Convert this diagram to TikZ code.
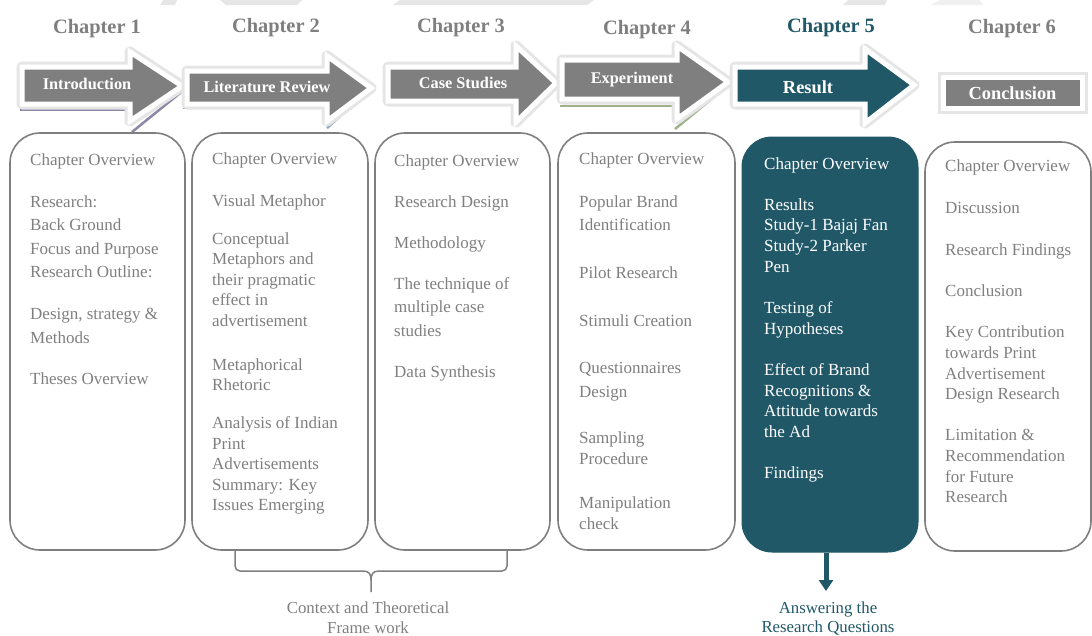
\documentclass[tikz,border=0pt]{standalone}
\usepackage{fontspec}
\setmainfont{Liberation Serif}
\usetikzlibrary{arrows.meta}
\definecolor{tealdk}{HTML}{215868}
\definecolor{grtxt}{HTML}{7F7F7F}
\definecolor{arrowgr}{HTML}{7F7F7F}
\definecolor{accpurple}{HTML}{8E86A6}
\definecolor{accblue}{HTML}{8DA3BD}
\definecolor{accgreen}{HTML}{9FB08A}
\definecolor{band}{HTML}{E6E6E6}
\begin{document}
\begin{tikzpicture}[x=1pt,y=-1pt,
  chap/.style={font=\fontsize{20.4}{24}\selectfont\bfseries, text=grtxt, anchor=base, inner sep=0pt},
  alab/.style={font=\fontsize{16.3}{20}\selectfont\bfseries, text=white, anchor=base, inner sep=0pt},
  blab/.style={font=\fontsize{18.4}{22}\selectfont\bfseries, text=white, anchor=base, inner sep=0pt},
  arrowbody/.style={fill=#1, draw=white, line width=5pt, line join=miter,
    preaction={draw=black!10, line width=11pt, line join=round}},
  accent/.style={draw=#1, line width=2.5pt},
  cbox/.style={draw=grtxt, line width=1.6pt, rounded corners=30pt, inner sep=0pt},
  tbox/.style={fill=tealdk, draw=tealdk, line width=1pt, rounded corners=30pt, inner sep=0pt},
  ltxt/.style={font=\fontsize{17}{21}\selectfont, text=grtxt, anchor=base west, inner sep=0pt},
  wtxt/.style={font=\fontsize{17}{21}\selectfont, text=white, anchor=base west, inner sep=0pt},
  note/.style={font=\fontsize{16.8}{21}\selectfont, anchor=base, inner sep=0pt},
  brace/.style={draw=grtxt, line width=1.5pt, line join=round}
]
\useasboundingbox (0,0) rectangle (1092,635);

% faint strips along the top edge
\fill[band] (220,0) -- (302,0) -- (297,5) -- (226,5) -- cycle;
\fill[band] (163,0) -- (177,0) -- (175,5) -- (160,5) -- cycle;
\fill[band] (400,0) -- (594,0) -- (587,5) -- (393,5) -- cycle;
\fill[band] (848,0) -- (887,0) -- (885,5) -- (843,5) -- cycle;
\fill[band!60] (940,0) -- (980,0) -- (983,5) -- (930,5) -- cycle;

% chapter headings
\node[chap] (h1) at (97,33) {Chapter 1};
\node[chap] (h2) at (276,32) {Chapter 2};
\node[chap] (h3) at (461,32) {Chapter 3};
\node[chap] (h4) at (647,34) {Chapter 4};
\node[chap, text=tealdk] (h5) at (831,32) {Chapter 5};
\node[chap] (h6) at (1012,33) {Chapter 6};

% accent edges under the first arrows
\draw[accent=accpurple] (20,110) -- (128,110);
\draw[accent=accpurple] (132,132) -- (185,89);
\draw[accent=accblue] (183,108) -- (323,108);
\draw[accent=accblue] (327,128) -- (373,87);
\draw[accent=accgreen] (560,106) -- (673,106);
\draw[accent=accgreen] (675,129) -- (731,83);

% block arrows
\path[arrowbody=arrowgr] (22,67) -- (130,67) -- (130,52) -- (182,86) -- (130,121) -- (130,104) -- (22,104) -- cycle;
\path[arrowbody=arrowgr] (187,71) -- (327,71) -- (327,56) -- (371,88) -- (327,121) -- (327,104) -- (187,104) -- cycle;
\path[arrowbody=arrowgr] (388,67) -- (516,67) -- (516,46) -- (556,83) -- (516,122) -- (516,101) -- (388,101) -- cycle;
\path[arrowbody=arrowgr] (562,60) -- (677,60) -- (677,46) -- (728,82) -- (677,119) -- (677,99) -- (562,99) -- cycle;
\path[arrowbody=tealdk] (735,67) -- (865,67) -- (865,49) -- (914,85) -- (865,123) -- (865,104) -- (735,104) -- cycle;

\node[alab] (a1) at (87,89) {Introduction};
\node[alab] (a2) at (267,92) {Literature Review};
\node[alab] (a3) at (463,88) {Case Studies};
\node[alab] (a4) at (632,83) {Experiment};
\node[blab] (a5) at (808,93) {Result};
\node[fill=arrowgr, draw=white, line width=5pt, minimum width=139pt, minimum height=31pt,
      inner sep=0pt, preaction={draw=black!10, line width=11pt},
      font=\fontsize{18.4}{22}\selectfont\bfseries, text=white] (a6) at (1012.5,93) {Conclusion};

% chapter boxes
\node[cbox, minimum width=175pt, minimum height=417pt] (b1) at (97.5,341.5) {};
\node[cbox, minimum width=176pt, minimum height=417pt] (b2) at (280,341.5) {};
\node[cbox, minimum width=175pt, minimum height=417pt] (b3) at (462.5,341.5) {};
\node[cbox, minimum width=177pt, minimum height=417pt] (b4) at (646.5,341.5) {};
\node[tbox, minimum width=176pt, minimum height=415pt] (b5) at (830,344.5) {};
\node[cbox, minimum width=166pt, minimum height=409pt] (b6) at (1008,346.5) {};

% box contents
\foreach \yv/\lbl [count=\i] in {159/Chapter Overview, 201/Research:, 224/Back Ground,
  248/Focus and Purpose, 271/Research Outline:, 313/{Design, strategy \&}, 337/Methods,
  378/Theses Overview}
  \node[ltxt] (t1-\i) at (30,\yv+6) {\lbl};
\foreach \yv/\lbl [count=\i] in {158/Chapter Overview, 200/Visual Metaphor, 238/Conceptual,
  258/Metaphors and, 279/their pragmatic, 299/effect in, 320/advertisement,
  364/Metaphorical, 384/Rhetoric, 422/Analysis of Indian, 443/Print, 463/Advertisements,
  484/Summary: Key, 504/Issues Emerging}
  \node[ltxt] (t2-\i) at (212,\yv+6) {\lbl};
\foreach \yv/\lbl [count=\i] in {160/Chapter Overview, 201/Research Design, 242/Methodology,
  283/The technique of, 306/multiple case, 330/studies, 371/Data Synthesis}
  \node[ltxt] (t3-\i) at (394,\yv+6) {\lbl};
\foreach \yv/\lbl [count=\i] in {158/Chapter Overview, 201/Popular Brand, 224/Identification,
  272/Pilot Research, 320/Stimuli Creation, 367/Questionnaires, 391/Design,
  437/Sampling, 458/Procedure, 502/Manipulation, 523/check}
  \node[ltxt] (t4-\i) at (579,\yv+6) {\lbl};
\foreach \yv/\lbl [count=\i] in {163/Chapter Overview, 204/Results, 224/Study-1 Bajaj Fan,
  245/Study-2 Parker, 266/Pen, 307/Testing of, 328/Hypotheses, 369/Effect of Brand,
  390/Recognitions \&, 410/Attitude towards, 431/the Ad, 472/Findings}
  \node[wtxt] (t5-\i) at (764,\yv+6) {\lbl};
\foreach \yv/\lbl [count=\i] in {165/Chapter Overview, 207/Discussion, 249/Research Findings,
  290/Conclusion, 331/Key Contribution, 352/towards Print, 373/Advertisement,
  393/Design Research, 434/Limitation \&, 455/Recommendation, 476/for Future, 496/Research}
  \node[ltxt] (t6-\i) at (945,\yv+6) {\lbl};

% brace under chapters 2 and 3
\coordinate (brL) at (235,551);
\coordinate (brR) at (507,551);
\coordinate (brC) at (371,592);
\draw[brace] (brL) -- (235,566) arc[start angle=180, end angle=270, radius=5pt]
  -- (363,571) .. controls (369,571) and (371,574) .. (371,580) -- (brC);
\draw[brace] (brR) -- (507,566) arc[start angle=0, end angle=-90, radius=5pt]
  -- (379,571) .. controls (373,571) and (371,574) .. (371,580);
\node[note, text=grtxt] (ctx1) at (368,613) {Context and Theoretical};
\node[note, text=grtxt] (ctx2) at (368,633) {Frame work};

% outcome of chapter 5
\coordinate (ans) at (826,591);
\draw[tealdk, line width=5pt, -{Triangle[width=14pt,length=11pt]}] (b5.south -| ans) -- (ans);
\node[note, text=tealdk] (q1) at (828,613) {Answering the};
\node[note, text=tealdk] (q2) at (828,632) {Research Questions};
\end{tikzpicture}
\end{document}
